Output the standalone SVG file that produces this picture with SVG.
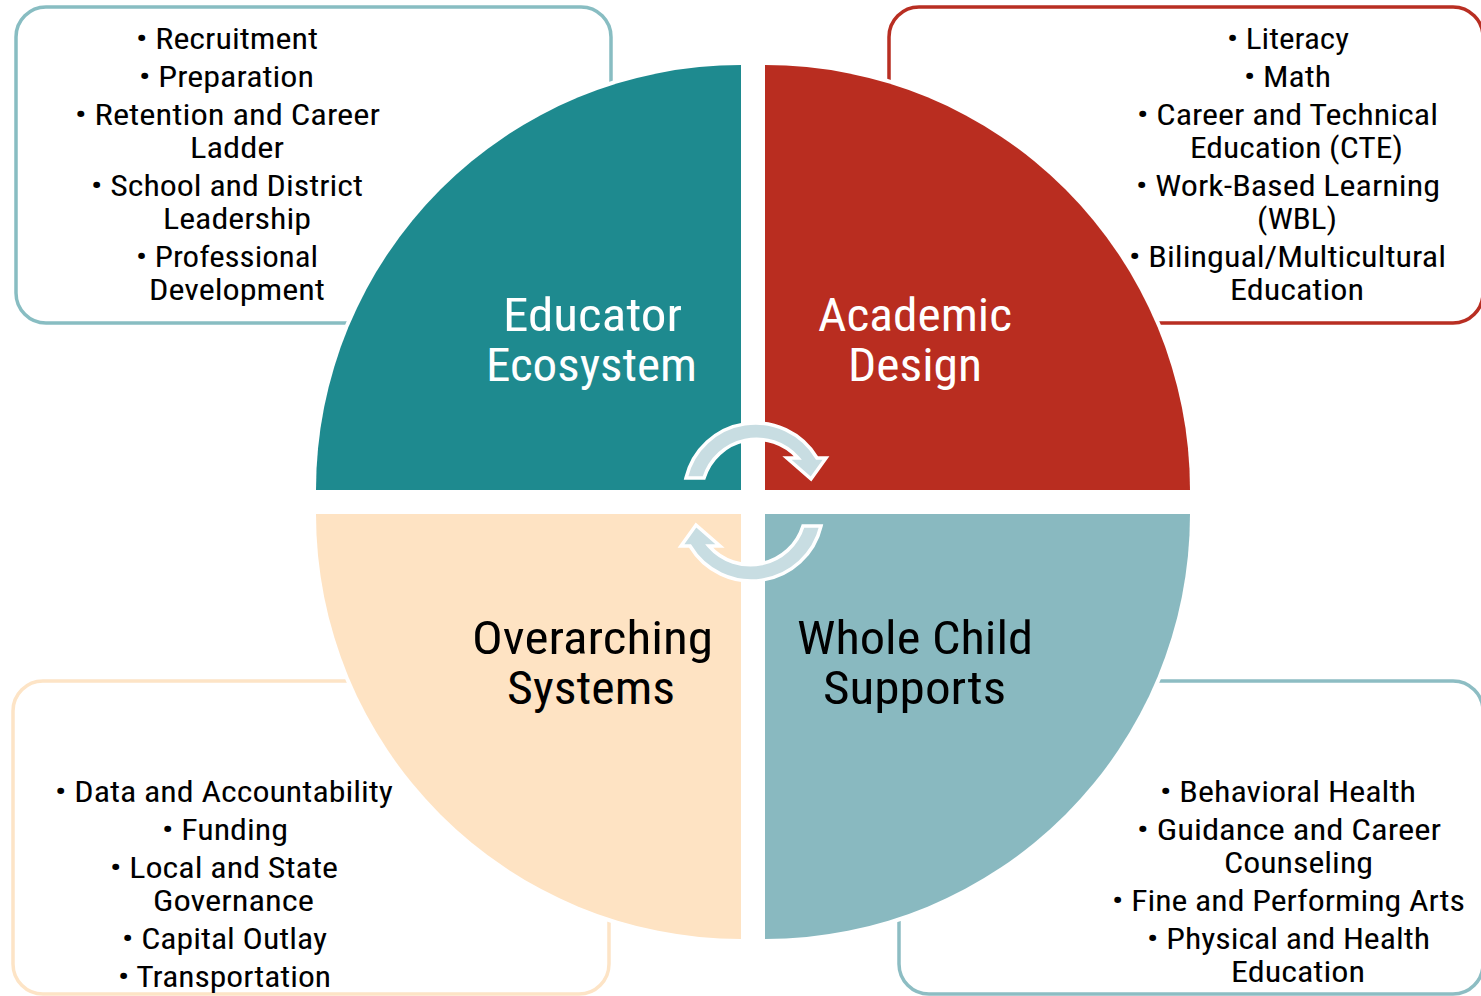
<svg xmlns="http://www.w3.org/2000/svg" width="1481" height="996" viewBox="0 0 1481 996">
<style>
.box{fill:#ffffff;stroke-width:3.5}
.q{stroke:#ffffff;stroke-width:8;paint-order:stroke}
.t{font-family:"Liberation Sans Narrow","Roboto Condensed","DejaVu Sans Condensed","Liberation Sans",Arial,sans-serif;font-size:29px;fill:#000000}
.big{font-family:"Liberation Sans Narrow","Roboto Condensed","DejaVu Sans Condensed","Liberation Sans",Arial,sans-serif;font-size:46px}
.arr{fill:#c8dde2;stroke:#ffffff;stroke-width:3.5;stroke-linejoin:miter}
</style>
<rect width="1481" height="996" fill="#ffffff"/>

<g id="educator-ecosystem">
<rect class="box" x="16" y="7" width="595" height="316" rx="30" stroke="#88bdc2"/>
<path class="q" d="M741,490 L741,65 A425,425 0 0 0 316,490 Z" fill="#1e8a8f"/>
<text class="big" fill="#ffffff" x="503" y="331" textLength="179" lengthAdjust="spacingAndGlyphs">Educator</text>
<text class="big" fill="#ffffff" x="486" y="381" textLength="211" lengthAdjust="spacingAndGlyphs">Ecosystem</text>
<g class="t">
<text x="136" y="49" textLength="182" lengthAdjust="spacingAndGlyphs">• Recruitment</text>
<text x="139" y="87" textLength="175" lengthAdjust="spacingAndGlyphs">• Preparation</text>
<text x="75" y="125" textLength="305" lengthAdjust="spacingAndGlyphs">• Retention and Career</text>
<text x="190" y="158" textLength="94" lengthAdjust="spacingAndGlyphs">Ladder</text>
<text x="91" y="196" textLength="272" lengthAdjust="spacingAndGlyphs">• School and District</text>
<text x="163" y="229" textLength="148" lengthAdjust="spacingAndGlyphs">Leadership</text>
<text x="136" y="267" textLength="182" lengthAdjust="spacingAndGlyphs">• Professional</text>
<text x="149" y="300" textLength="176" lengthAdjust="spacingAndGlyphs">Development</text>
</g>
</g>

<g id="academic-design">
<rect class="box" x="889" y="7" width="594" height="316" rx="30" stroke="#b82e22"/>
<path class="q" d="M765,490 L765,65 A425,425 0 0 1 1190,490 Z" fill="#b92d20"/>
<text class="big" fill="#ffffff" x="818" y="331" textLength="194" lengthAdjust="spacingAndGlyphs">Academic</text>
<text class="big" fill="#ffffff" x="848" y="381" textLength="134" lengthAdjust="spacingAndGlyphs">Design</text>
<g class="t">
<text x="1227" y="49" textLength="122" lengthAdjust="spacingAndGlyphs">• Literacy</text>
<text x="1244" y="87" textLength="87" lengthAdjust="spacingAndGlyphs">• Math</text>
<text x="1137" y="125" textLength="301" lengthAdjust="spacingAndGlyphs">• Career and Technical</text>
<text x="1190" y="158" textLength="213" lengthAdjust="spacingAndGlyphs">Education (CTE)</text>
<text x="1136" y="196" textLength="304" lengthAdjust="spacingAndGlyphs">• Work-Based Learning</text>
<text x="1257" y="229" textLength="80" lengthAdjust="spacingAndGlyphs">(WBL)</text>
<text x="1129" y="267" textLength="317" lengthAdjust="spacingAndGlyphs">• Bilingual/Multicultural</text>
<text x="1230" y="300" textLength="134" lengthAdjust="spacingAndGlyphs">Education</text>
</g>
</g>

<g id="overarching-systems">
<rect class="box" x="13" y="681" width="596" height="313" rx="30" stroke="#fde4c6"/>
<path class="q" d="M741,514 L316,514 A425,425 0 0 0 741,939 Z" fill="#fee3c3"/>
<text class="big" fill="#000000" x="472" y="654" textLength="241" lengthAdjust="spacingAndGlyphs">Overarching</text>
<text class="big" fill="#000000" x="507" y="704" textLength="168" lengthAdjust="spacingAndGlyphs">Systems</text>
<g class="t">
<text x="55" y="802" textLength="338" lengthAdjust="spacingAndGlyphs">• Data and Accountability</text>
<text x="162" y="840" textLength="126" lengthAdjust="spacingAndGlyphs">• Funding</text>
<text x="110" y="878" textLength="228" lengthAdjust="spacingAndGlyphs">• Local and State</text>
<text x="153" y="911" textLength="161" lengthAdjust="spacingAndGlyphs">Governance</text>
<text x="122" y="949" textLength="205" lengthAdjust="spacingAndGlyphs">• Capital Outlay</text>
<text x="118" y="987" textLength="213" lengthAdjust="spacingAndGlyphs">• Transportation</text>
</g>
</g>

<g id="whole-child-supports">
<rect class="box" x="899" y="681" width="584" height="313" rx="30" stroke="#8dbdc3"/>
<path class="q" d="M765,514 L1190,514 A425,425 0 0 1 765,939 Z" fill="#89b9c0"/>
<text class="big" fill="#000000" x="797" y="654" textLength="236" lengthAdjust="spacingAndGlyphs">Whole Child</text>
<text class="big" fill="#000000" x="823" y="704" textLength="183" lengthAdjust="spacingAndGlyphs">Supports</text>
<g class="t">
<text x="1160" y="802" textLength="256" lengthAdjust="spacingAndGlyphs">• Behavioral Health</text>
<text x="1137" y="840" textLength="304" lengthAdjust="spacingAndGlyphs">• Guidance and Career</text>
<text x="1224" y="873" textLength="149" lengthAdjust="spacingAndGlyphs">Counseling</text>
<text x="1112" y="911" textLength="353" lengthAdjust="spacingAndGlyphs">• Fine and Performing Arts</text>
<text x="1147" y="949" textLength="283" lengthAdjust="spacingAndGlyphs">• Physical and Health</text>
<text x="1231" y="982" textLength="134" lengthAdjust="spacingAndGlyphs">Education</text>
</g>
</g>

<g id="connectors">
<path id="cycle-arrow-top" class="arr" d="M686,478 A71.5,71.5 0 0 1 817,458 L826,458 L811,479 L787,458 L798,458 A55,55 0 0 0 704,478 Z"/>
<path id="cycle-arrow-bottom" class="arr" transform="rotate(180 753.5 502)" d="M686,478 A71.5,71.5 0 0 1 817,458 L826,458 L811,479 L787,458 L798,458 A55,55 0 0 0 704,478 Z"/>
</g>
</svg>
